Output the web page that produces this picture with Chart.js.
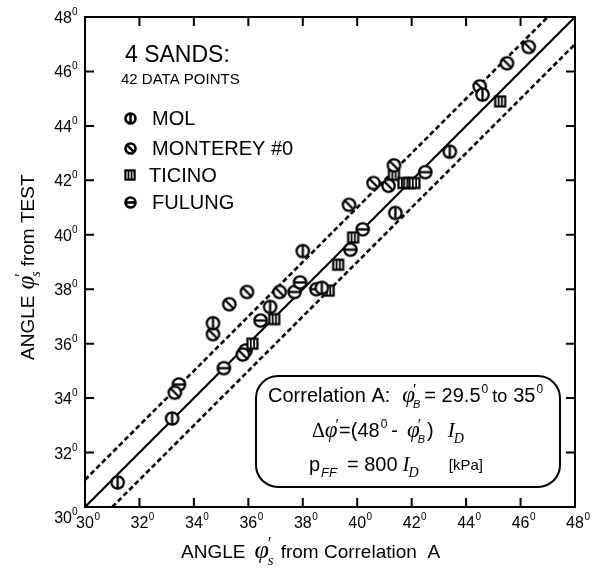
<!DOCTYPE html>
<html>
<head>
<meta charset="utf-8">
<script src="https://cdn.jsdelivr.net/npm/chart.js@4.4.0/dist/chart.umd.min.js"></script>
<style>
  html, body { margin: 0; padding: 0; background: #fff; }
  #wrap { width: 592px; height: 578px; }
</style>
</head>
<body>
<div id="wrap"><canvas id="chart" width="592" height="578"></canvas></div>
<script>
// --- data (degrees) ---
const molX = [31.2, 33.2, 34.7, 36.8, 38.0, 38.7, 41.4, 43.4, 44.6];
const molY = [30.9, 33.25, 36.75, 37.35, 39.4, 38.05, 40.8, 43.05, 45.15];

const montereyX = [33.3, 34.7, 35.3, 35.95, 35.8, 37.15, 39.7, 40.6, 41.15, 41.35, 44.5, 45.5, 46.3];
const montereyY = [34.2, 36.35, 37.45, 37.9, 35.6, 37.9, 41.1, 41.9, 41.8, 42.55, 45.45, 46.3, 46.9];

const ticinoX = [36.15, 36.95, 38.95, 39.3, 39.85, 41.35, 41.7, 41.9, 42.1, 45.25];
const ticinoY = [36.0, 36.9, 37.95, 38.9, 39.9, 42.2, 41.9, 41.9, 41.9, 44.9];

const fulungX = [33.45, 35.1, 35.9, 36.45, 37.7, 37.9, 38.5, 39.75, 40.2, 42.5];
const fulungY = [34.5, 35.1, 35.75, 36.85, 37.9, 38.25, 38.0, 39.45, 40.2, 42.3];

// 1:1 line and the +/- 1 degree band
const oneToOneX = [30, 48];
const oneToOneY = [30, 48];
const upperX = [30, 47];
const upperY = [31, 48];
const lowerX = [31, 48];
const lowerY = [30, 47];

const tickValues = [30, 32, 34, 36, 38, 40, 42, 44, 46, 48];
const sandNames = ['MOL', 'MONTEREY #0', 'TICINO', 'FULUNG'];

const SANS = "'Liberation Sans', Arial, sans-serif";
const SERIF = "'Liberation Serif', 'Times New Roman', serif";

const pts = (xs, ys) => xs.map((x, i) => ({ x: x, y: ys[i] }));

// marker images: circle with a bar, or square with two bars
function makeMarker(kind, r, lw) {
  const s = Math.ceil(2 * r + lw + 2);
  const c = document.createElement('canvas');
  c.width = s; c.height = s;
  const g = c.getContext('2d');
  const m = s / 2;
  g.lineWidth = lw; g.strokeStyle = '#000'; g.fillStyle = '#fff';
  if (kind === 'square') {
    g.fillRect(m - r, m - r, 2 * r, 2 * r);
    g.strokeRect(m - r, m - r, 2 * r, 2 * r);
    g.beginPath();
    g.moveTo(m - r / 3, m - r); g.lineTo(m - r / 3, m + r);
    g.moveTo(m + r / 3, m - r); g.lineTo(m + r / 3, m + r);
    g.lineWidth = lw * 0.8;
    g.stroke();
  } else {
    g.beginPath(); g.arc(m, m, r, 0, Math.PI * 2); g.fill(); g.stroke();
    g.beginPath();
    if (kind === 'vbar') { g.moveTo(m, m - r); g.lineTo(m, m + r); }
    if (kind === 'hbar') { g.moveTo(m - r, m); g.lineTo(m + r, m); }
    if (kind === 'slash') { const d = r * 0.72; g.moveTo(m - d, m - d); g.lineTo(m + d, m + d); }
    g.stroke();
  }
  return c;
}

const kinds = ['vbar', 'slash', 'square', 'hbar'];
const plotMarks = kinds.map(k => k === 'square' ? makeMarker(k, 5, 2.2) : makeMarker(k, 6.2, 2.3));
const legendMarks = kinds.map(k => k === 'square' ? makeMarker(k, 4.6, 2.2) : makeMarker(k, 5, 2.6));

// absolute text pieces {t, f, x, y}
function pieces(ctx, list) {
  list.forEach(p => { ctx.font = p.f; ctx.fillText(p.t, p.x, p.y); });
}

// flowing text: each item {t, f, gap, dy, under} ; under = start at previous item's x
function flow(ctx, x, y, items) {
  let cur = x, prevX = x, prevEnd = x;
  items.forEach(p => {
    ctx.font = p.f;
    const start = p.under ? prevX : cur + (p.gap || 0);
    ctx.fillText(p.t, start, y + (p.dy || 0));
    const end = start + ctx.measureText(p.t).width;
    cur = p.under ? Math.max(prevEnd, end) : end;
    prevX = start; prevEnd = end;
  });
  return cur;
}

const framePlugin = {
  id: 'frame',
  afterDraw(chart) {
    const ctx = chart.ctx;
    const xs = chart.scales.x, ys = chart.scales.y;
    const a = chart.chartArea;
    ctx.save();
    ctx.fillStyle = '#000';
    ctx.strokeStyle = '#000';

    // frame
    ctx.lineWidth = 2;
    ctx.strokeRect(a.left, a.top, a.right - a.left, a.bottom - a.top);

    // inward ticks on all four sides
    const tl = 9;
    ctx.beginPath();
    tickValues.slice(1, -1).forEach(v => {
      const px = xs.getPixelForValue(v), py = ys.getPixelForValue(v);
      ctx.moveTo(px, a.bottom); ctx.lineTo(px, a.bottom - tl);
      ctx.moveTo(px, a.top); ctx.lineTo(px, a.top + tl);
      ctx.moveTo(a.left, py); ctx.lineTo(a.left + tl, py);
      ctx.moveTo(a.right, py); ctx.lineTo(a.right - tl, py);
    });
    ctx.stroke();

    // tick labels with superscript 0
    const big = '16px ' + SANS, small = '10px ' + SANS;
    tickValues.forEach(v => {
      const s = String(v);
      const px = xs.getPixelForValue(v);
      ctx.font = big;
      const w = ctx.measureText(s).width;
      ctx.fillText(s, px - w / 2, a.bottom + 21);
      ctx.font = small;
      ctx.fillText('0', px + w / 2 + 0.5, a.bottom + 13);
      const py = ys.getPixelForValue(v) + (v === 30 ? 16 : 6);
      ctx.font = big;
      const w2 = ctx.measureText(s).width;
      ctx.fillText(s, a.left - 13 - w2, py);
      ctx.font = small;
      ctx.fillText('0', a.left - 13, py - 8);
    });

    // x axis title
    flow(ctx, 181, 558, [
      { t: 'ANGLE', f: '19px ' + SANS },
      { t: '\u03C6', f: 'italic 26px ' + SERIF, gap: 9 },
      { t: '\u2032', f: '18px ' + SERIF, gap: -1, dy: -8 },
      { t: 's', f: 'italic 15px ' + SERIF, under: true, dy: 7 },
      { t: 'from Correlation  A', f: '19px ' + SANS, gap: 7 }
    ]);

    // y axis title (rotated)
    ctx.save();
    ctx.translate(34, 266);
    ctx.rotate(-Math.PI / 2);
    flow(ctx, -94, 0, [
      { t: 'ANGLE', f: '19px ' + SANS },
      { t: '\u03C6', f: 'italic 25px ' + SERIF, gap: 6 },
      { t: '\u2032', f: '17px ' + SERIF, gap: -1, dy: -8 },
      { t: 's', f: 'italic 14px ' + SERIF, under: true, dy: 6 },
      { t: 'from TEST', f: '19px ' + SANS, gap: 5 }
    ]);
    ctx.restore();

    // header text
    pieces(ctx, [
      { t: '4 SANDS:', f: '23px ' + SANS, x: 125, y: 62 },
      { t: '42 DATA POINTS', f: '15px ' + SANS, x: 121, y: 84 }
    ]);

    // legend
    const rows = [125, 155, 182, 209];
    sandNames.forEach((name, i) => {
      const img = legendMarks[i];
      ctx.drawImage(img, Math.round(130 - img.width / 2), Math.round(rows[i] - 7 - img.height / 2));
      ctx.font = '20px ' + SANS;
      ctx.fillText(name, i === 2 ? 149 : 152, rows[i]);
    });

    // correlation box
    ctx.lineWidth = 2;
    ctx.fillStyle = '#fff';
    ctx.beginPath();
    ctx.roundRect(256, 376, 304, 111, 22);
    ctx.fill();
    ctx.stroke();
    ctx.fillStyle = '#000';
    const n20 = '20px ' + SANS, sup = '12px ' + SANS;
    const phi = 'italic 23px ' + SERIF, prime = '16px ' + SERIF;
    const subB = 'italic 11px ' + SANS;
    flow(ctx, 268, 402, [
      { t: 'Correlation A:', f: n20 },
      { t: '\u03C6', f: phi, gap: 12 },
      { t: '\u2032', f: prime, gap: -2, dy: -7 },
      { t: 'B', f: subB, under: true, dy: 6 },
      { t: '= 29.5', f: n20, gap: 4 },
      { t: '0', f: sup, gap: 1, dy: -9 },
      { t: 'to', f: '18px ' + SANS, gap: 4 },
      { t: '35', f: n20, gap: 6 },
      { t: '0', f: sup, gap: 1, dy: -9 }
    ]);
    flow(ctx, 312, 437, [
      { t: '\u0394', f: '20px ' + SERIF },
      { t: '\u03C6', f: phi, gap: 0 },
      { t: '\u2032', f: prime, gap: -2, dy: -7 },
      { t: '=(48', f: n20, gap: 0 },
      { t: '0', f: sup, gap: 1, dy: -9 },
      { t: '-', f: n20, gap: 4 },
      { t: '\u03C6', f: phi, gap: 9 },
      { t: '\u2032', f: prime, gap: -2, dy: -7 },
      { t: 'B', f: subB, under: true, dy: 6 },
      { t: ')', f: n20, gap: 2 },
      { t: 'I', f: 'italic 21px ' + SERIF, gap: 14 },
      { t: 'D', f: 'italic 14px ' + SERIF, gap: -1, dy: 6 }
    ]);
    flow(ctx, 309, 471, [
      { t: 'p', f: n20 },
      { t: 'FF', f: 'italic 13px ' + SANS, gap: 1, dy: 6 },
      { t: '= 800', f: n20, gap: 10 },
      { t: 'I', f: 'italic 21px ' + SERIF, gap: 5 },
      { t: 'D', f: 'italic 14px ' + SERIF, gap: -1, dy: 6 },
      { t: '[kPa]', f: '15px ' + SANS, gap: 30, dy: -1 }
    ]);
    ctx.restore();
  }
};

const lineSet = (xs, ys, dash) => ({
  type: 'line',
  data: pts(xs, ys),
  borderColor: '#000',
  borderWidth: dash ? 2.6 : 2,
  borderDash: dash ? [5, 3] : [],
  pointRadius: 0,
  fill: false,
  order: 10
});

const markSet = (label, xs, ys, i) => ({
  label: label,
  data: pts(xs, ys),
  pointStyle: plotMarks[i],
  pointRadius: 7,
  pointHoverRadius: 7,
  order: 1
});

new Chart(document.getElementById('chart').getContext('2d'), {
  type: 'scatter',
  data: {
    datasets: [
      lineSet(oneToOneX, oneToOneY, false),
      lineSet(upperX, upperY, true),
      lineSet(lowerX, lowerY, true),
      markSet('MOL', molX, molY, 0),
      markSet('MONTEREY #0', montereyX, montereyY, 1),
      markSet('TICINO', ticinoX, ticinoY, 2),
      markSet('FULUNG', fulungX, fulungY, 3)
    ]
  },
  options: {
    responsive: false,
    animation: false,
    layout: { padding: { left: 85, right: 17, top: 17, bottom: 71 } },
    plugins: { legend: { display: false }, tooltip: { enabled: false } },
    scales: {
      x: { type: 'linear', min: 30, max: 48, display: false },
      y: { type: 'linear', min: 30, max: 48, display: false }
    }
  },
  plugins: [framePlugin]
});
</script>
</body>
</html>
